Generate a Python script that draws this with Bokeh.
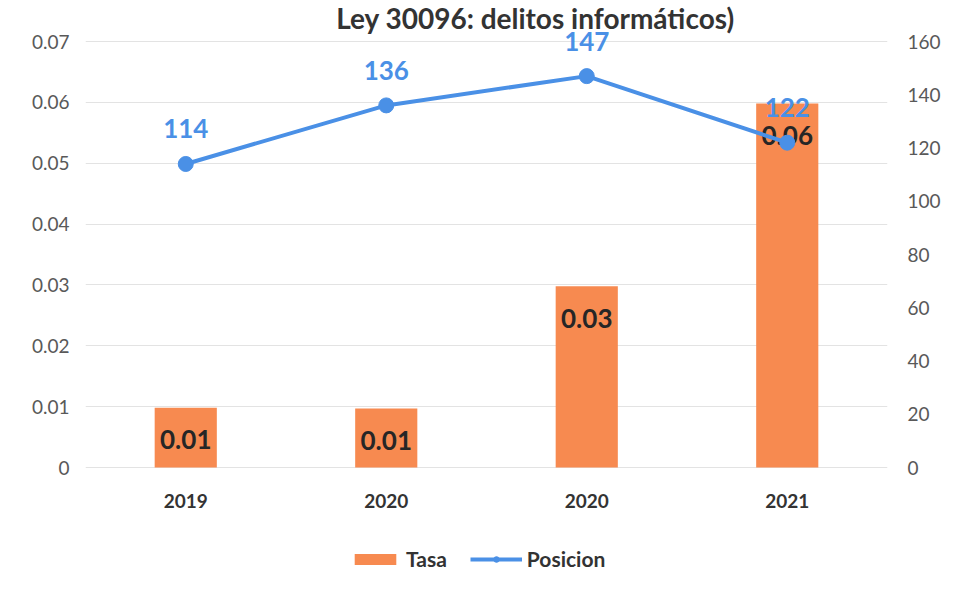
from bokeh.plotting import figure
from bokeh.models import (Range1d, LinearAxis, FixedTicker, Legend, LegendItem,
                          ColumnDataSource, Label)
from bokeh.core.properties import value
from bokeh.embed import file_html
from bokeh.resources import INLINE

# ---- data ----
categories = ["2019", "2020", "2020", "2021"]
tasa = [0.0098, 0.0097, 0.0298, 0.0598]
tasa_labels = ["0.01", "0.01", "0.03", "0.06"]
posicion = [114, 136, 147, 122]
posicion_labels = ["114", "136", "147", "122"]
left_ticks = [0, 0.01, 0.02, 0.03, 0.04, 0.05, 0.06, 0.07]
right_ticks = [0, 20, 40, 60, 80, 100, 120, 140, 160]
title_text = "Ley 30096: delitos informáticos)"

FONT = "Lato"
ORANGE = "#F78A50"
BLUE = "#4A90E6"
GRAY = "#595959"
DARK = "#262626"

# layout: the frame spans the full height so that labels near the top and the
# legend below are not clipped; the value ranges are stretched to match.
W, H = 943, 577
LEFT_MAX, RIGHT_MAX = left_ticks[-1], right_ticks[-1]
PX_TOP, PX_ZERO = 41, 467          # where the top and zero gridlines sit
ppu = (PX_ZERO - PX_TOP) / LEFT_MAX
y_end = LEFT_MAX + PX_TOP / ppu
y_start = -(H - PX_ZERO) / ppu
k = RIGHT_MAX / LEFT_MAX

xs = list(range(len(categories)))
src = ColumnDataSource(dict(x=xs, tasa=tasa, tl=tasa_labels, pos=posicion,
                            pl=posicion_labels, cat=categories, zero=[0] * len(xs)))

p = figure(width=W, height=H, output_backend="svg", toolbar_location=None,
           x_range=Range1d(-0.5, len(categories) - 0.5), y_range=Range1d(y_start, y_end),
           min_border_left=85, min_border_right=53, min_border_top=0, min_border_bottom=0)
p.extra_y_ranges = {"pos": Range1d(y_start * k, y_end * k)}
p.outline_line_color = None
p.background_fill_color = "white"
p.border_fill_color = "white"
p.xaxis.visible = False

# title
p.add_layout(Label(x=450, y=H, x_units="screen", y_units="screen", text=title_text,
                   text_align="center", text_baseline="top", text_font=FONT,
                   text_font_size="28px", text_font_style="bold", text_color="#333333"))

# bars
bars = p.vbar(x="x", top="tasa", bottom=0, width=0.31, source=src, fill_color=ORANGE,
              line_color=None)
p.text(x="x", y="tasa", text="tl", source=src, y_offset=32, text_align="center",
       text_baseline="middle", text_font=value(FONT), text_font_size="26px",
       text_font_style="bold", text_color=DARK)

# line
ln = p.line(x="x", y="pos", source=src, y_range_name="pos", line_color=BLUE, line_width=4)
pts = p.scatter(x="x", y="pos", source=src, y_range_name="pos", size=15,
                fill_color=BLUE, line_color=BLUE)
p.text(x="x", y="pos", text="pl", source=src, y_range_name="pos", y_offset=-35,
       text_align="center", text_baseline="middle", text_font=value(FONT),
       text_font_size="26px", text_font_style="bold", text_color=BLUE)

# category labels under the bars
p.text(x="x", y="zero", text="cat", source=src, y_offset=33, text_align="center",
       text_baseline="middle", text_font=value(FONT), text_font_size="19px",
       text_font_style="bold", text_color="#333333")

# axes
ya = p.yaxis[0]
ya.ticker = FixedTicker(ticks=left_ticks)
ya.major_label_overrides = {0: "0"}
ya.axis_line_color = None
ya.major_tick_line_color = None
ya.minor_tick_line_color = None
ya.major_label_standoff = 10
ya.major_label_text_font = FONT
ya.major_label_text_font_size = "19px"
ya.major_label_text_color = GRAY

ra = LinearAxis(y_range_name="pos", ticker=FixedTicker(ticks=right_ticks))
ra.axis_line_color = None
ra.major_tick_line_color = None
ra.minor_tick_line_color = None
ra.major_label_standoff = 14
ra.major_label_text_font = FONT
ra.major_label_text_font_size = "19px"
ra.major_label_text_color = GRAY
p.add_layout(ra, "right")

p.xgrid.visible = False
p.ygrid.grid_line_color = "#e3e3e3"
p.ygrid.grid_line_width = 1

legend = Legend(items=[LegendItem(label="Tasa", renderers=[bars]),
                       LegendItem(label="Posicion", renderers=[ln, pts])],
                orientation="horizontal", location=(264, 6),
                glyph_width=52, glyph_height=14, spacing=23, label_standoff=5,
                label_text_font=FONT, label_text_font_size="21px",
                label_text_font_style="bold", label_text_color="#333333",
                border_line_color=None, background_fill_alpha=0, margin=0, padding=4)
p.add_layout(legend, "center")

open("out.html", "w").write(file_html(p, INLINE))
